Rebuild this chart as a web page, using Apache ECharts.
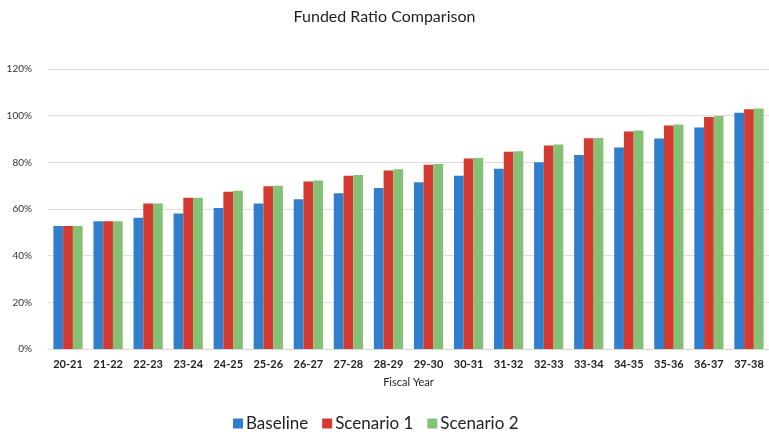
<!DOCTYPE html>
<html>
<head>
<meta charset="utf-8">
<script src="https://cdn.jsdelivr.net/npm/echarts@6/dist/echarts.min.js"></script>
<style>
html,body{margin:0;padding:0;background:#fff;}
#chart{width:769px;height:439px;}
</style>
</head>
<body>
<div id="chart"></div>
<script>
var categories = ['20-21','21-22','22-23','23-24','24-25','25-26','26-27','27-28','28-29','29-30','30-31','31-32','32-33','33-34','34-35','35-36','36-37','37-38'];
var baseline  = [52.7, 54.8, 56.3, 58.1, 60.4, 62.4, 64.2, 66.8, 69.0, 71.5, 74.2, 77.2, 80.0, 83.1, 86.4, 90.2, 94.9, 101.3];
var scenario1 = [52.7, 54.8, 62.4, 64.8, 67.4, 69.7, 71.8, 74.2, 76.5, 79.0, 81.6, 84.5, 87.2, 90.3, 93.2, 95.8, 99.4, 102.7];
var scenario2 = [52.7, 54.8, 62.4, 64.8, 67.8, 70.0, 72.2, 74.6, 77.0, 79.3, 81.9, 84.7, 87.6, 90.4, 93.6, 96.2, 99.9, 103.1];
var yTicks = [0, 20, 40, 60, 80, 100, 120];

var font = 'Lato, "Open Sans", sans-serif';
var chart = echarts.init(document.getElementById('chart'), null, {renderer: 'canvas'});
chart.setOption({
  animation: false,
  backgroundColor: '#ffffff',
  title: {
    text: 'Funded Ratio Comparison',
    left: 'center',
    top: 4,
    textStyle: {fontFamily: font, fontSize: 16, fontWeight: 'normal', color: '#1f1f1f'}
  },
  legend: {
    bottom: 2,
    left: 228,
    itemWidth: 10,
    itemHeight: 10,
    itemGap: 14,
    icon: 'rect',
    textStyle: {fontFamily: font, fontSize: 17, color: '#222', padding: [0, 0, 0, -2]},
    data: ['Baseline', 'Scenario 1', 'Scenario 2']
  },
  grid: {left: 48, right: 0, top: 69, bottom: 90, containLabel: false},
  xAxis: {
    type: 'category',
    data: categories,
    name: 'Fiscal Year',
    nameLocation: 'middle',
    nameGap: 28,
    nameTextStyle: {fontFamily: font, fontSize: 11, color: '#222'},
    axisTick: {show: false},
    axisLine: {show: true, lineStyle: {color: '#d9d9d9'}},
    axisLabel: {fontFamily: font, fontSize: 11, fontWeight: 'bold', color: '#222', margin: 10, interval: 0}
  },
  yAxis: {
    type: 'value',
    min: yTicks[0],
    max: yTicks[yTicks.length - 1],
    interval: yTicks[1] - yTicks[0],
    axisLine: {show: false},
    axisTick: {show: false},
    splitLine: {lineStyle: {color: '#dddddd'}},
    axisLabel: {fontFamily: font, fontSize: 10, color: '#333', margin: 16, formatter: function(v){return v + '%';}}
  },
  series: [
    {name: 'Baseline', type: 'bar', data: baseline, barGap: '0%', barCategoryGap: '27%', itemStyle: {color: '#2f7fcc'}},
    {name: 'Scenario 1', type: 'bar', data: scenario1, barGap: '0%', barCategoryGap: '27%', itemStyle: {color: '#d43a2f'}},
    {name: 'Scenario 2', type: 'bar', data: scenario2, barGap: '0%', barCategoryGap: '27%', itemStyle: {color: '#84c175'}}
  ]
});
</script>
</body>
</html>
